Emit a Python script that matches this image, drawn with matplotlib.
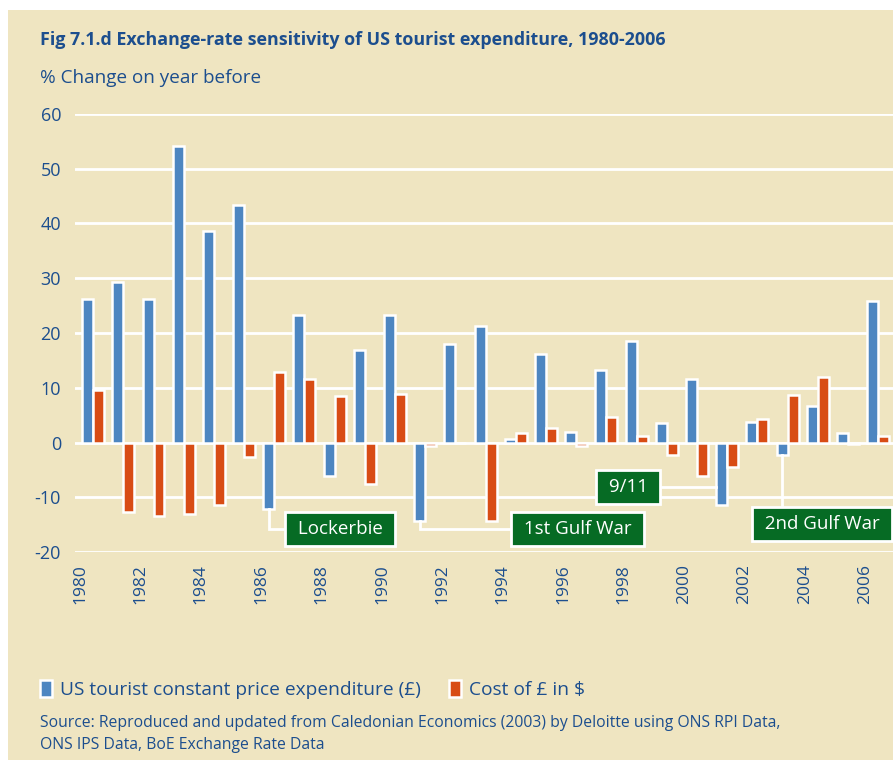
import numpy as np
import matplotlib.pyplot as plt
from matplotlib.patches import Rectangle

# data (% change on year before)
years = np.arange(1980, 2007)
us_spend = [26.2, 29.4, 26.2, 54.1, 38.6, 43.3, -12.2, 23.2, -6.1, 16.9,
            23.2, -14.3, 17.9, 21.2, 0.7, 16.2, 1.9, 13.2, 18.6, 3.5,
            11.6, -11.5, 3.8, -2.2, 6.6, 1.8, 25.9]
gbp_cost = [9.6, -12.7, -13.4, -13.0, -11.5, -2.7, 12.8, 11.6, 8.5, -7.6,
            8.8, -0.6, 0.0, -14.4, 1.8, 2.7, -0.7, 4.6, 1.1, -2.2,
            -6.1, -4.5, 4.3, 8.6, 12.0, -0.3, 1.2]
yticks = [-20, -10, 0, 10, 20, 30, 40, 50, 60]
xtick_years = list(range(1980, 2007, 2))

# events: (label, year of bar, box centre x, box centre y)
events = [("Lockerbie", 1986, 1988.18, -15.8),
          ("1st Gulf War", 1991, 1996.04, -15.8),
          ("9/11", 2001, 1997.72, -8.1),
          ("2nd Gulf War", 2003, 2004.14, -14.9)]

BG = "#EFE5C1"
BLUE = "#4D86C1"
ORANGE = "#D84C15"
GREEN = "#066B24"
TXT = "#1C4E8E"
FONT = "Open Sans"

plt.rcParams['font.family'] = [FONT, 'DejaVu Sans']
plt.rcParams['axes.unicode_minus'] = False

W, H = 893, 760
fig = plt.figure(figsize=(W / 100, H / 100), dpi=100)
fig.patch.set_facecolor("white")
fig.patches.append(Rectangle((8 / W, 0), 1, (H - 10) / H, transform=fig.transFigure,
                             facecolor=BG, edgecolor="none", zorder=-10))

ax = fig.add_axes([75 / W, (H - 552) / H, 1 - 75 / W, (552 - 114) / H])
ax.set_facecolor("none")

bw = 0.364
ax.bar(years - bw / 2, us_spend, width=bw, color=BLUE, edgecolor="white",
       linewidth=1.8, zorder=3, label="US tourist constant price expenditure (£)")
ax.bar(years + bw / 2, gbp_cost, width=bw, color=ORANGE, edgecolor="white",
       linewidth=1.8, zorder=3, label="Cost of £ in $")

ax.set_xlim(1979.40, 2006.49)
ax.set_ylim(-20, 60)
ax.set_yticks(yticks)
ax.yaxis.grid(True, color="white", linewidth=2, zorder=0)
ax.set_axisbelow(True)
for s in ax.spines.values():
    s.set_visible(False)
ax.tick_params(axis="y", length=0, pad=10, labelsize=13, labelcolor=TXT)
ax.set_xticks([y - 0.43 for y in xtick_years])
ax.set_xticklabels([str(y) for y in xtick_years], rotation=90)
ax.tick_params(axis="x", length=0, pad=9, labelsize=12.5, labelcolor=TXT)

# event labels with white connector lines
spend = dict(zip(years, us_spend))
for label, yr, bx, by in events:
    bar_x = yr - bw / 2
    val = spend[yr]
    if label == "9/11":
        lx, ly = [bx, bar_x - bw / 2], [by, by]
    elif label == "2nd Gulf War":
        lx, ly = [bar_x, bar_x], [val, by]
    else:
        lx, ly = [bar_x, bar_x, bx], [val, by, by]
    ax.plot(lx, ly, color="white", lw=2, zorder=4, clip_on=False,
            solid_joinstyle="miter")
    ax.text(bx, by, " " + label + " ", ha="center", va="center", color="white",
            fontsize=13.5, zorder=6, clip_on=False,
            bbox=dict(boxstyle="square,pad=0.42", facecolor=GREEN,
                      edgecolor="white", linewidth=2))

fig.text(40 / W, 1 - 45 / H, "Fig 7.1.d Exchange-rate sensitivity of US tourist expenditure, 1980-2006",
         fontsize=12.9, fontweight="bold", color=TXT, va="baseline")
fig.text(40 / W, 1 - 83 / H, "% Change on year before", fontsize=13.6, color=TXT, va="baseline")

leg = fig.legend(loc="lower left", bbox_to_anchor=(32 / W, 1 - 707 / H), ncol=2,
                 frameon=False, fontsize=13.8, handlelength=0.62, handleheight=1.0,
                 handletextpad=0.45, columnspacing=1.45, borderaxespad=0)
for t in leg.get_texts():
    t.set_color(TXT)

fig.text(40 / W, 1 - 727 / H,
         "Source: Reproduced and updated from Caledonian Economics (2003) by Deloitte using ONS RPI Data,",
         fontsize=11.3, color=TXT, va="baseline")
fig.text(40 / W, 1 - 749 / H, "ONS IPS Data, BoE Exchange Rate Data",
         fontsize=11.3, color=TXT, va="baseline")

fig.savefig("out.png", dpi=100, facecolor=fig.get_facecolor())
